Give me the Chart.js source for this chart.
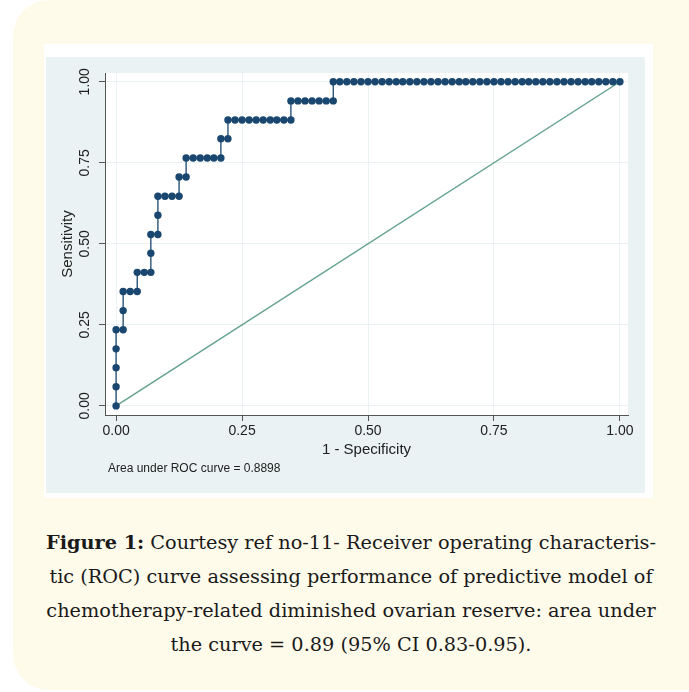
<!DOCTYPE html>
<html lang="en">
<head>
  <meta charset="UTF-8" />
  <title>ROC curve</title>
  <script src="https://cdn.jsdelivr.net/npm/chart.js"></script>
  <style>
    * {
      margin: 0;
      padding: 0;
      box-sizing: border-box;
    }
    body {
      background: #ffffff;
      width: 689px;
      height: 692px;
      overflow: hidden;
      position: relative;
      font-family: 'Liberation Sans', Arial, sans-serif;
    }
    .card {
      position: absolute;
      left: 13px;
      top: 0;
      width: 740px;
      height: 690px;
      background: #fffbea;
      border-radius: 36px;
    }
    .frame {
      position: absolute;
      left: 44px;
      top: 44px;
      width: 609px;
      height: 454px;
      background: #ffffff;
    }
    .graph {
      position: absolute;
      left: 46px;
      top: 57px;
      width: 599px;
      height: 436px;
      background: #eaf2f3;
    }
    .note {
      position: absolute;
      left: 108px;
      top: 461px;
      font-size: 12px;
      color: #222;
    }
    .caption {
      position: absolute;
      left: 13px;
      top: 526px;
      width: 676px;
      text-align: center;
      font-family: 'DejaVu Serif', serif;
      font-size: 19.3px;
      line-height: 34px;
      color: #1a1a1a;
    }
  </style>
</head>
<body>
  <div class="card"></div>
  <div class="frame"></div>
  <div class="graph"><canvas id="roc"></canvas></div>
  <div class="note">Area under ROC curve = 0.8898</div>
  <div class="caption">
    <b>Figure 1:</b> Courtesy ref no-11- Receiver operating characteris-<br>
    tic (ROC) curve assessing performance of predictive model of<br>
    chemotherapy-related diminished ovarian reserve: area under<br>
    the curve = 0.89 (95% CI 0.83-0.95).
  </div>

  <script>
    // ticks on both axes
    const xTicks = [0, 0.25, 0.5, 0.75, 1];
    const yTicks = [0, 0.25, 0.5, 0.75, 1];

    // 1 - specificity for each cut point
    const fpr = [
      0, 0, 0, 0, 0, .014, .014, .014, .028, .042, .042, .056, .069, .069, .069,
      .083, .083, .083, .097, .111, .125, .125, .139, .139, .153, .167, .181, .194,
      .208, .208, .222, .222, .236, .25, .264, .278, .292, .306, .319, .333, .347,
      .347, .361, .375, .389, .403, .417, .431, .431,
      .444, .458, .472, .486, .5, .514, .528, .542, .556, .569,
      .583, .597, .611, .625, .639, .653, .667, .681, .694, .708,
      .722, .736, .75, .764, .778, .792, .806, .819, .833, .847,
      .861, .875, .889, .903, .917, .931, .944, .958, .972, .986, 1
    ];
    // sensitivity for each cut point
    const sens = [
      0, .059, .118, .176, .235, .235, .294, .353, .353, .353, .412, .412, .412,
      .471, .529, .529, .588, .647, .647, .647, .647, .706, .706,
      .765, .765, .765, .765, .765, .765, .824, .824,
      .882, .882, .882, .882, .882, .882, .882, .882, .882, .882,
      .941, .941, .941, .941, .941, .941, .941,
      1, 1, 1, 1, 1, 1, 1, 1, 1, 1, 1, 1, 1, 1, 1, 1, 1, 1, 1, 1, 1,
      1, 1, 1, 1, 1, 1, 1, 1, 1, 1, 1, 1, 1, 1, 1, 1, 1, 1, 1, 1, 1
    ];
    // reference (chance) line
    const refX = [0, 1];
    const refY = [0, 1];

    const plotBg = {
      id: 'plotBg',
      beforeDraw(chart) {
        const { ctx, chartArea: a } = chart;
        ctx.save();
        ctx.fillStyle = '#ffffff';
        ctx.fillRect(a.left, a.top, a.width, a.height);
        ctx.restore();
      }
    };

    const axisFont = { family: "'Liberation Sans', Arial, sans-serif", size: 14 };

    new Chart(document.getElementById('roc'), {
      type: 'line',
      data: {
        datasets: [
          {
            label: 'ROC',
            data: fpr.map((x, i) => ({ x: x, y: sens[i] })),
            borderColor: '#1a476f',
            borderWidth: 1.3,
            pointRadius: 3.7,
            pointBorderWidth: 0,
            pointBackgroundColor: '#1a476f',
            tension: 0
          },
          {
            label: 'Reference',
            data: refX.map((x, i) => ({ x: x, y: refY[i] })),
            borderColor: '#62a18b',
            borderWidth: 1.4,
            pointRadius: 0,
            tension: 0
          }
        ]
      },
      options: {
        responsive: true,
        maintainAspectRatio: false,
        animation: false,
        layout: { padding: { top: 16, right: 17, left: 0, bottom: 0 } },
        plugins: {
          legend: { display: false },
          tooltip: { enabled: false }
        },
        scales: {
          x: {
            type: 'linear',
            min: -0.022,
            max: 1.016,
            afterBuildTicks: s => { s.ticks = xTicks.map(v => ({ value: v })); },
            afterFit: s => { s.height = 78; },
            border: { color: '#555' },
            grid: { color: '#eaf2f3', tickColor: '#555', tickLength: 6 },
            ticks: {
              color: '#222',
              font: axisFont,
              padding: 2,
              maxRotation: 0,
              callback: v => v.toFixed(2)
            },
            title: {
              display: true,
              text: '1 - Specificity',
              color: '#222',
              font: { family: axisFont.family, size: 15 },
              padding: { top: 0, bottom: 34 }
            }
          },
          y: {
            type: 'linear',
            min: -0.028,
            max: 1.027,
            afterBuildTicks: s => { s.ticks = yTicks.map(v => ({ value: v })); },
            afterFit: s => { s.width = 59; },
            border: { color: '#555' },
            grid: { color: '#eaf2f3', tickColor: '#555', tickLength: 6 },
            ticks: {
              color: '#222',
              font: axisFont,
              padding: 0,
              minRotation: 90,
              maxRotation: 90,
              crossAlign: 'center',
              callback: v => v.toFixed(2)
            },
            title: {
              display: true,
              text: 'Sensitivity',
              color: '#222',
              font: { family: axisFont.family, size: 15 },
              padding: { top: 13, bottom: 0 }
            }
          }
        }
      },
      plugins: [plotBg]
    });
  </script>
</body>
</html>
